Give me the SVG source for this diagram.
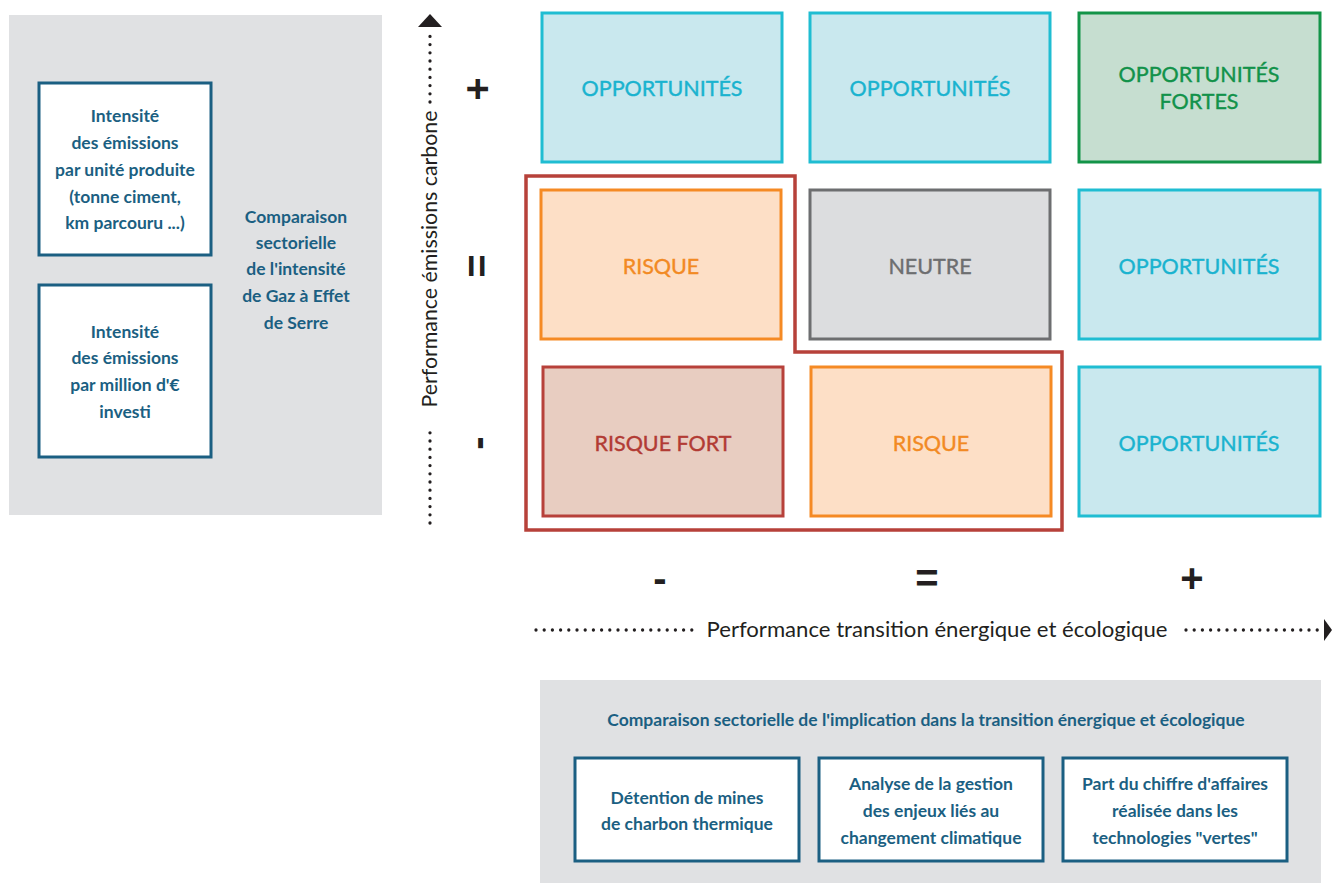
<svg xmlns="http://www.w3.org/2000/svg" width="1332" height="883" viewBox="0 0 1332 883">
<style>
.panel{fill:#e0e1e3}
.wbox{fill:#ffffff;stroke:#1b5f82;stroke-width:3}
.bt{font-family:Lato,"Liberation Sans",sans-serif;font-weight:bold;font-size:17.5px;fill:#1b5f82;text-anchor:middle}
.cell{stroke-width:3}
.opp{fill:#c9e8ee;stroke:#1fbdd2}
.oppf{fill:#c6ded0;stroke:#139448}
.ris{fill:#fddfc6;stroke:#f58a24}
.neu{fill:#dcdddf;stroke:#6d6e70}
.rf{fill:#e8cdc1;stroke:#b7413a}
.lab{font-family:Lato,"Liberation Sans",sans-serif;font-size:21.5px;text-anchor:middle;stroke-width:0.4}
.t-opp{fill:#1ab3cf;stroke:#1ab3cf}
.t-oppf{fill:#12924a;stroke:#12924a}
.t-ris{fill:#f28a23;stroke:#f28a23}
.t-neu{fill:#6d6e70;stroke:#6d6e70}
.t-rf{fill:#b23b34;stroke:#b23b34}
.sign{font-family:"Liberation Sans",sans-serif;font-weight:bold;font-size:40px;fill:#231f20;text-anchor:middle}
.axt{font-family:Lato,"Liberation Sans",sans-serif;font-size:21.5px;fill:#231f20;text-anchor:middle}
.dots{fill:none;stroke:#231f20;stroke-width:3.3;stroke-linecap:round;stroke-dasharray:0 8.2}
</style>

<g id="left-panel">
<rect class="panel" x="9" y="15" width="373" height="500"/>
<text class="bt" x="296" y="223">Comparaison</text>
<text class="bt" x="296" y="249">sectorielle</text>
<text class="bt" x="296" y="275">de l'intensité</text>
<text class="bt" x="296" y="302">de Gaz à Effet</text>
<text class="bt" x="296" y="329">de Serre</text>
</g>
<g id="box-unite">
<rect class="wbox" x="39" y="83" width="172" height="172"/>
<text class="bt" x="125" y="122">Intensité</text>
<text class="bt" x="125" y="149">des émissions</text>
<text class="bt" x="125" y="176">par unité produite</text>
<text class="bt" x="125" y="203">(tonne ciment,</text>
<text class="bt" x="125" y="229">km parcouru ...)</text>
</g>
<g id="box-million">
<rect class="wbox" x="39" y="285" width="172" height="172"/>
<text class="bt" x="125" y="338">Intensité</text>
<text class="bt" x="125" y="364">des émissions</text>
<text class="bt" x="125" y="391">par million d'€</text>
<text class="bt" x="125" y="418">investi</text>
</g>

<g id="connectors">
<path class="dots" d="M430,523 V428"/>
<path class="dots" d="M430,102 V31"/>
<polygon points="430,14 442,27 418,27" fill="#231f20"/>
<path class="dots" d="M536,630 H692"/>
<path class="dots" d="M1186,630 H1318"/>
<polygon points="1332,630 1324,619 1324,641" fill="#231f20"/>
<path d="M526,176 H795 V352 H1062 V530 H526 Z" fill="none" stroke="#b7413a" stroke-width="3.5"/>
</g>

<g id="axis-labels">
<text class="axt" transform="translate(437,259) rotate(-90)" textLength="297" lengthAdjust="spacingAndGlyphs">Performance émissions carbone</text>
<text class="axt" x="937" y="637" textLength="461" lengthAdjust="spacingAndGlyphs">Performance transition énergique et écologique</text>
<text class="sign" transform="translate(491,89) rotate(-90)">+</text>
<text class="sign" transform="translate(491,266) rotate(-90)">=</text>
<text class="sign" transform="translate(491,443) rotate(-90)">-</text>
<text class="sign" x="660" y="592">-</text>
<text class="sign" x="927" y="592">=</text>
<text class="sign" x="1192" y="592">+</text>
</g>

<g id="c-1-1"><rect class="cell opp" x="542" y="13" width="240" height="149"/><text class="lab t-opp" x="662" y="96">OPPORTUNITÉS</text></g>
<g id="c-1-2"><rect class="cell opp" x="810" y="13" width="240" height="149"/><text class="lab t-opp" x="930" y="96">OPPORTUNITÉS</text></g>
<g id="c-1-3"><rect class="cell oppf" x="1079" y="13" width="241" height="149"/><text class="lab t-oppf" x="1199" y="82">OPPORTUNITÉS</text><text class="lab t-oppf" x="1199" y="109">FORTES</text></g>
<g id="c-2-1"><rect class="cell ris" x="541" y="190" width="240" height="149"/><text class="lab t-ris" x="661" y="274">RISQUE</text></g>
<g id="c-2-2"><rect class="cell neu" x="810" y="190" width="240" height="149"/><text class="lab t-neu" x="930" y="274">NEUTRE</text></g>
<g id="c-2-3"><rect class="cell opp" x="1079" y="190" width="241" height="149"/><text class="lab t-opp" x="1199" y="274">OPPORTUNITÉS</text></g>
<g id="c-3-1"><rect class="cell rf" x="543" y="367" width="240" height="149"/><text class="lab t-rf" x="663" y="451">RISQUE FORT</text></g>
<g id="c-3-2"><rect class="cell ris" x="811" y="367" width="240" height="149"/><text class="lab t-ris" x="931" y="451">RISQUE</text></g>
<g id="c-3-3"><rect class="cell opp" x="1079" y="367" width="241" height="149"/><text class="lab t-opp" x="1199" y="451">OPPORTUNITÉS</text></g>

<g id="bottom-panel">
<rect class="panel" x="540" y="680" width="781" height="203"/>
<text class="bt" x="926" y="726">Comparaison sectorielle de l'implication dans la transition énergique et écologique</text>
</g>
<g id="box-charbon">
<rect class="wbox" x="575" y="758" width="224" height="103"/>
<text class="bt" x="687" y="804">Détention de mines</text>
<text class="bt" x="687" y="830">de charbon thermique</text>
</g>
<g id="box-gestion">
<rect class="wbox" x="819" y="758" width="224" height="103"/>
<text class="bt" x="931" y="790">Analyse de la gestion</text>
<text class="bt" x="931" y="817">des enjeux liés au</text>
<text class="bt" x="931" y="844">changement climatique</text>
</g>
<g id="box-vertes">
<rect class="wbox" x="1063" y="758" width="224" height="103"/>
<text class="bt" x="1175" y="790">Part du chiffre d'affaires</text>
<text class="bt" x="1175" y="817">réalisée dans les</text>
<text class="bt" x="1175" y="844">technologies "vertes"</text>
</g>
</svg>
